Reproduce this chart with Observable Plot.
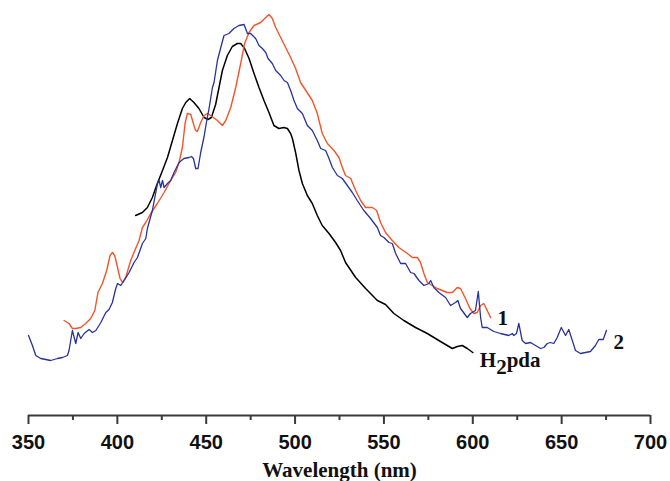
<!DOCTYPE html>
<html><head><meta charset="utf-8">
<script src="https://cdn.jsdelivr.net/npm/d3@7"></script>
<script src="https://cdn.jsdelivr.net/npm/@observablehq/plot@0.6"></script>
<style>html,body{margin:0;padding:0;background:#fff;}</style>
</head><body><div id="chart"></div>
<script>
// H2pda emission spectrum (arbitrary intensity units)
const h2pdaWl = [410.3,414.1,416.9,419.7,422.5,425.4,428.2,431.0,433.8,436.6,438.5,440.7,443.1,445.9,448.8,451.0,452.9,455.3,457.2,459.1,461.9,464.7,467.5,469.4,471.6,474.1,476.9,479.7,482.5,485.3,488.1,490.9,493.7,495.7,497.5,498.5,500.4,502.2,504.1,506.9,509.7,512.5,515.3,519.1,522.8,525.6,528.4,534.1,539.7,546.3,550.9,555.6,561.2,567.8,574.4,580.9,585.6,588.5,591.3,594.1,596.9,600.0];
const h2pdaI  = [200,203,208,218,232,245,258,275,292,307,313,317,313,307,298,296,298,311,328,345,360,369,372,372,367,357,342,328,315,303,290,287,288,287,282,277,262,245,232,220,212,200,190,182,173,165,153,138,127,115,111,102,95,88,82,75,70,67,69,70,67,63];

// Compound 1
const c1Wl = [370.0,372.8,374.7,376.6,379.4,382.2,385.0,387.3,389.1,391.6,394.0,395.9,397.2,398.5,400.1,401.5,402.9,404.7,407.5,410.3,412.2,414.1,416.0,418.8,422.5,426.3,430.0,432.8,434.7,436.6,438.1,439.4,441.3,443.1,444.1,445.0,446.9,448.8,450.7,452.5,456.3,459.1,461.0,463.8,466.6,469.4,471.6,474.1,476.9,480.6,483.5,485.3,487.2,489.1,491.9,494.7,497.5,500.3,503.1,509.7,512.5,515.3,518.2,521.9,524.7,526.6,528.4,531.3,534.1,536.9,539.7,543.5,545.9,548.1,550.9,554.7,558.4,563.2,566.0,568.8,570.6,572.5,574.4,577.2,580.0,582.8,585.6,588.5,591.3,593.1,595.9,598.4,600.6,602.5,604.4,606.2,608.1,610.0];
const c1I  = [95,92,87,87,88,92,97,105,123,132,145,160,163,160,148,137,133,138,155,167,175,188,193,202,212,223,235,243,253,268,292,302,301,290,285,284,293,300,302,300,295,290,295,308,328,352,372,383,390,393,398,401,397,388,378,368,358,347,333,315,302,282,272,265,258,248,240,237,225,215,208,208,205,193,183,175,168,162,158,158,153,142,133,130,127,125,123,123,128,127,117,107,102,103,110,112,105,98];

// Compound 2
const c2Wl = [350.0,352.2,354.1,356.9,362.5,366.3,369.1,371.9,372.8,374.7,376.6,377.9,379.4,381.3,384.1,386.0,387.9,390.7,393.5,395.3,397.2,399.1,400.1,401.9,403.8,406.6,409.4,411.3,414.1,416.0,416.9,419.7,422.6,423.5,424.4,425.4,426.3,428.2,430.0,431.9,434.7,437.5,440.3,441.7,442.8,444.1,445.4,446.9,448.8,450.3,451.6,453.5,454.4,456.3,458.2,460.0,462.8,465.6,468.4,471.3,473.2,475.0,477.8,479.7,481.6,483.5,484.8,487.2,489.1,491.9,493.8,495.7,497.5,499.4,501.3,504.1,506.9,509.7,512.5,514.4,517.2,519.1,521.0,523.8,526.6,529.4,532.2,535.0,538.7,542.5,546.3,548.1,550.0,552.8,554.7,556.6,559.4,562.2,565.0,566.9,569.7,572.5,575.3,576.3,578.1,580.9,584.7,587.5,590.3,591.6,593.1,596.9,598.7,601.5,603.1,604.4,605.3,608.1,611.9,615.6,620.3,622.2,623.1,624.6,625.9,627.8,629.7,632.5,635.3,638.1,640.0,641.9,643.7,645.6,647.5,649.8,652.2,654.0,656.0,657.8,660.6,663.4,666.2,669.0,670.9,673.4,675.2];
const c2I  = [80,70,60,57,55,57,58,60,65,85,72,83,77,82,86,83,85,93,103,106,113,127,132,130,135,143,153,158,172,177,187,205,232,235,228,235,228,232,235,243,253,257,258,259,257,247,247,263,279,295,307,328,333,355,368,380,382,387,390,391,382,382,377,370,367,363,357,352,345,340,335,333,325,315,307,302,290,285,275,267,265,257,248,240,237,230,223,215,205,197,188,180,178,173,172,162,152,152,143,142,135,130,132,135,128,123,118,110,113,115,107,98,102,105,124,98,88,88,84,82,80,82,80,82,92,75,72,73,70,67,68,72,73,72,78,88,80,86,75,65,62,63,64,70,76,76,85];

const xMajorTicks = [350,400,450,500,550,600,650,700];
const xMinorTicks = [375,425,475,525,575,625,675];
const seriesNames = ["H2pda","1","2"];
const xTitle = "Wavelength (nm)";

const toRows = (wl, I) => wl.map((w, i) => ({w, I: I[i]}));
const h2pda = toRows(h2pdaWl, h2pdaI);
const c1 = toRows(c1Wl, c1I);
const c2 = toRows(c2Wl, c2I);
const last = a => [a[a.length - 1]];

const axisColor = "#3a3a3a";
const serif = "'Liberation Serif','Times New Roman',serif";

const chart = Plot.plot({
  width: 670,
  height: 481,
  marginLeft: 28,
  marginRight: 20,
  marginTop: 0,
  marginBottom: 66,
  x: {domain: [350, 700]},
  y: {domain: [0, 415], axis: null},
  style: {fontFamily: "'Liberation Sans',Arial,sans-serif", background: "#fff", color: "#000"},
  marks: [
    Plot.ruleY([0], {stroke: axisColor, strokeWidth: 2}),
    Plot.axisX(xMinorTicks, {tickSize: 5, stroke: axisColor, strokeWidth: 2, tickFormat: () => "", label: null}),
    Plot.axisX(xMajorTicks, {tickSize: 9, tickPadding: 10, stroke: axisColor, strokeWidth: 2,
      fontSize: 20, fontWeight: "bold", fill: "#111", label: null, tickFormat: d => String(d)}),
    Plot.text([xTitle], {frameAnchor: "bottom", dy: 61, text: d => d, fontFamily: serif,
      fontWeight: "bold", fontSize: 21, fill: "#111"}),
    Plot.line(h2pda, {x: "w", y: "I", stroke: "#000", strokeWidth: 1.5}),
    Plot.line(c1, {x: "w", y: "I", stroke: "#f2552a", strokeWidth: 1.4}),
    Plot.line(c2, {x: "w", y: "I", stroke: "#28339a", strokeWidth: 1.3}),
    Plot.text(last(c1), {x: "w", y: "I", text: () => seriesNames[1], textAnchor: "start", dx: 7, dy: 1,
      fontFamily: serif, fontWeight: "bold", fontSize: 21, fill: "#111"}),
    Plot.text(last(c2), {x: "w", y: "I", text: () => seriesNames[2], textAnchor: "start", dx: 7, dy: 12,
      fontFamily: serif, fontWeight: "bold", fontSize: 21, fill: "#111"}),
    Plot.text(last(h2pda), {x: "w", y: "I", text: () => seriesNames[0], textAnchor: "start", dx: 7, dy: 8,
      fontFamily: serif, fontWeight: "bold", fontSize: 21, fill: "#111"})
  ]
});
document.getElementById("chart").appendChild(chart);

// render the "2" of H2pda as a subscript
d3.select(chart).selectAll("text").each(function() {
  const t = d3.select(this);
  if (t.text() === "H2pda") {
    t.text("");
    t.append("tspan").text("H");
    t.append("tspan").attr("dy", "0.3em").text("2");
    t.append("tspan").attr("dy", "-0.3em").text("pda");
  }
});
</script>
</body></html>
